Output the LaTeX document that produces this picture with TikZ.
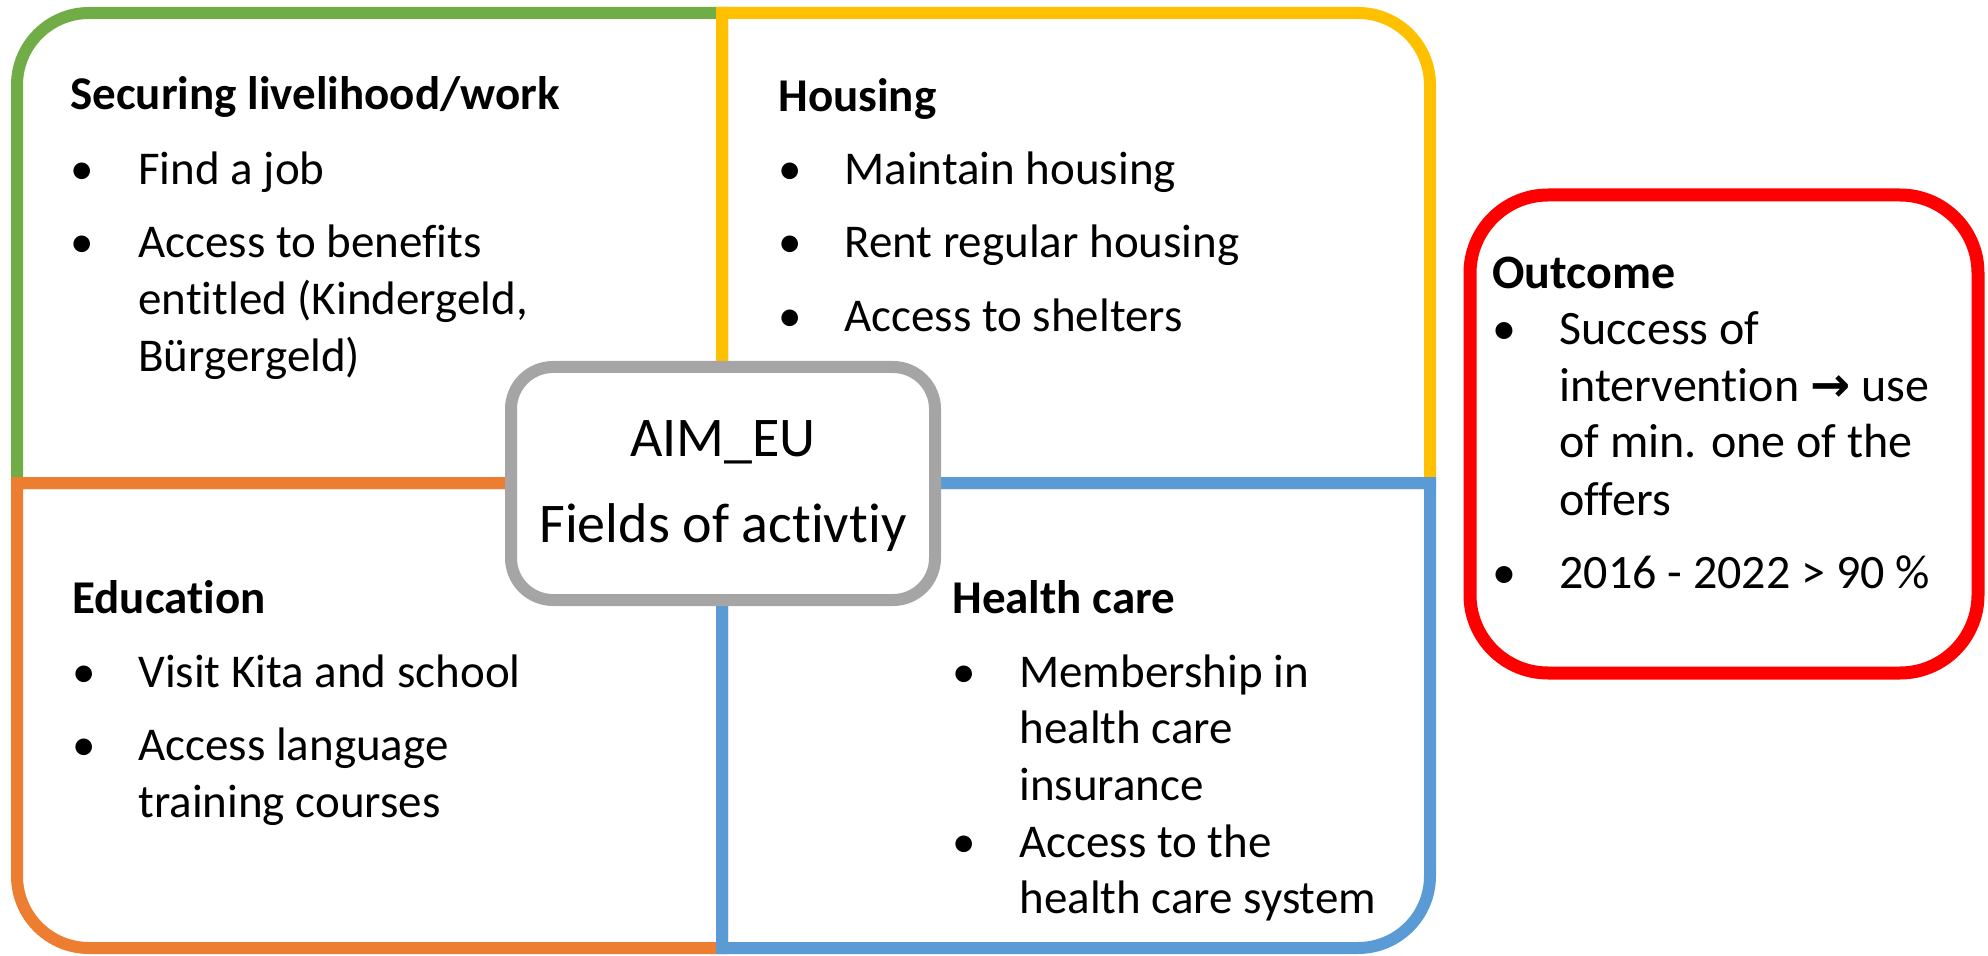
\documentclass[tikz,border=0pt]{standalone}
\usepackage{fontspec}
\setmainfont{Carlito}[Ligatures=NoCommon]
\newfontfamily\symfont{DejaVu Sans}
\definecolor{cgreen}{HTML}{70AD47}
\definecolor{cyellow}{HTML}{FFC000}
\definecolor{corange}{HTML}{ED7D31}
\definecolor{cblue}{HTML}{5B9BD5}
\definecolor{cgray}{HTML}{A5A5A5}
\definecolor{cred}{HTML}{FF0000}
\begin{document}
\begin{tikzpicture}[x=0.5pt,y=0.5pt,
  frame/.style={line width=6pt},
  txt/.style={anchor=base west, inner sep=0pt, font=\fontsize{23.5}{28}\selectfont},
  head/.style={anchor=base west, inner sep=0pt, font=\fontsize{23.5}{28}\selectfont\bfseries},
  rtxt/.style={anchor=base west, inner sep=0pt, font=\fontsize{24}{28}\selectfont},
  rhead/.style={anchor=base west, inner sep=0pt, font=\fontsize{24}{28}\selectfont\bfseries},
  ctxt/.style={anchor=base, inner sep=0pt, font=\fontsize{28}{33}\selectfont}]
\useasboundingbox (0,0) rectangle (1988,955);
% quadrants
\draw[frame, cgreen] (722,472) -- (17,472) -- (17,870) arc[start angle=180, end angle=90, radius=72] -- (722,942) -- cycle;
\draw[frame, cyellow] (722,472) -- (722,942) -- (1358,942) arc[start angle=90, end angle=0, radius=72] -- (1430,472) -- cycle;
\draw[frame, corange] (722,472) -- (17,472) -- (17,79) arc[start angle=180, end angle=270, radius=72] -- (722,7) -- cycle;
\draw[frame, cblue] (722,472) -- (1430,472) -- (1430,79) arc[start angle=0, end angle=-90, radius=72] -- (722,7) -- cycle;
% hub
\node[draw=cgray, line width=6pt, fill=white, rounded corners=21pt, minimum width=212pt, minimum height=116.5pt] (hub) at (723,471.5) {};
\node[ctxt] (hub1) at (723,498) {AIM\_EU};
\node[ctxt] (hub2) at (723,413) {Fields of activtiy};
% outcome
\node[draw=cred, line width=6.5pt, rounded corners=39pt, minimum width=254pt, minimum height=239pt] (outbox) at (1724,521) {};
% green
\node[head] (gh) at (70,845) {Securing livelihood/work};
\node[txt] (gb1) at (70,770) {•};
\node[txt] (gt1) at (138,770) {Find a job};
\node[txt] (gb2) at (70,697) {•};
\node[txt] (gt2) at (138,697) {Access to benefits};
\node[txt] (gt3) at (138,640) {entitled (Kindergeld,};
\node[txt] (gt4) at (138,583) {Bürgergeld)};
% yellow
\node[head] (yh) at (778,843) {Housing};
\node[txt] (yb1) at (778,770) {•};
\node[txt] (yt1) at (844,770) {Maintain housing};
\node[txt] (yb2) at (778,697) {•};
\node[txt] (yt2) at (844,697) {Rent regular housing};
\node[txt] (yb3) at (778,623) {•};
\node[txt] (yt3) at (844,623) {Access to shelters};
% orange
\node[head] (oh) at (72,342) {Education};
\node[txt] (ob1) at (72,268) {•};
\node[txt] (ot1) at (138,268) {Visit Kita and school};
\node[txt] (ob2) at (72,195) {•};
\node[txt] (ot2) at (138,195) {Access language};
\node[txt] (ot3) at (138,138) {training courses};
% blue
\node[head] (bh) at (952,342) {Health care};
\node[txt] (bb1) at (952,268) {•};
\node[txt] (bt1) at (1019,268) {Membership in};
\node[txt] (bt2) at (1019,212) {health care};
\node[txt] (bt3) at (1019,155) {insurance};
\node[txt] (bb2) at (952,98) {•};
\node[txt] (bt4) at (1019,98) {Access to the};
\node[txt] (bt5) at (1019,42) {health care system};
% red
\node[rhead] (rh) at (1492,666) {Outcome};
\node[rtxt] (rb1) at (1492,610) {•};
\node[rtxt] (rt1) at (1559,610) {Success of};
\node[rtxt] (rt2) at (1559,553) {intervention {\symfont\bfseries →} use};
\node[rtxt] (rt3) at (1559,497) {of min. one of the};
\node[rtxt] (rt4) at (1559,440) {offers};
\node[rtxt] (rb2) at (1492,367) {•};
\node[rtxt] (rt5) at (1559,367) {2016 - 2022 > 90 \%};
\end{tikzpicture}
\end{document}
